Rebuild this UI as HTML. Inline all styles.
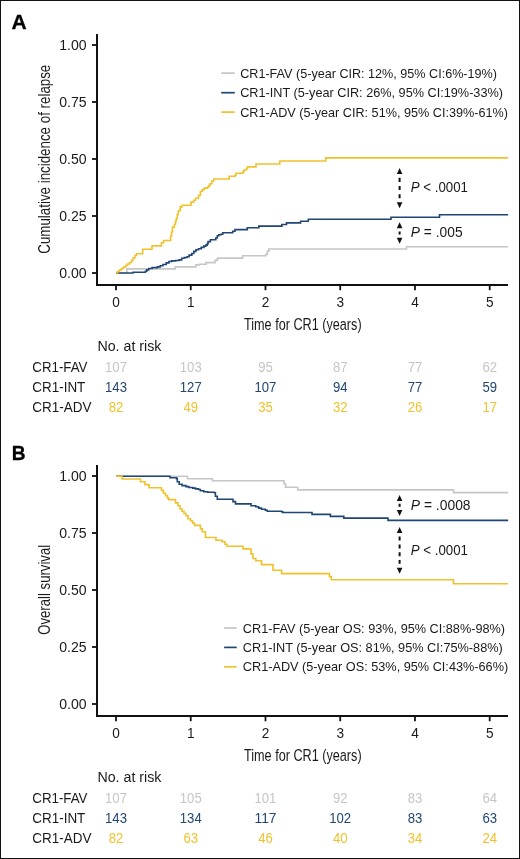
<!DOCTYPE html>
<html><head><meta charset="utf-8"><title>CR1 outcomes</title>
<style>
html,body{margin:0;padding:0;background:#fff;}
body{width:520px;height:859px;overflow:hidden;}
svg{display:block;will-change:transform;font-family:"Liberation Sans",sans-serif;}
</style></head>
<body>
<svg width="520" height="859" viewBox="0 0 520 859">
<rect x="0" y="0" width="520" height="859" fill="#fff"/>
<line x1="513.5" y1="1" x2="513.5" y2="858" stroke="#fafafa" stroke-width="1"/>
<g transform="translate(0,0)">
<text x="11.4" y="29.1" font-size="19.8" font-weight="bold" fill="#000" stroke="#000" stroke-width="0.3" transform="translate(11.4,0) scale(1.06,1) translate(-11.4,0)">A</text>
<path d="M97,34 V285 H508" stroke="#111" stroke-width="2" fill="none"/>
<path d="M92,45 H97" stroke="#111" stroke-width="1.8"/>
<text x="86.6" y="49.6" font-size="14.5" text-anchor="end" fill="#1a1a1a" textLength="27.4" lengthAdjust="spacingAndGlyphs">1.00</text>
<path d="M92,102 H97" stroke="#111" stroke-width="1.8"/>
<text x="86.6" y="106.6" font-size="14.5" text-anchor="end" fill="#1a1a1a" textLength="27.4" lengthAdjust="spacingAndGlyphs">0.75</text>
<path d="M92,159 H97" stroke="#111" stroke-width="1.8"/>
<text x="86.6" y="163.6" font-size="14.5" text-anchor="end" fill="#1a1a1a" textLength="27.4" lengthAdjust="spacingAndGlyphs">0.50</text>
<path d="M92,216 H97" stroke="#111" stroke-width="1.8"/>
<text x="86.6" y="220.6" font-size="14.5" text-anchor="end" fill="#1a1a1a" textLength="27.4" lengthAdjust="spacingAndGlyphs">0.25</text>
<path d="M92,273 H97" stroke="#111" stroke-width="1.8"/>
<text x="86.6" y="277.6" font-size="14.5" text-anchor="end" fill="#1a1a1a" textLength="27.4" lengthAdjust="spacingAndGlyphs">0.00</text>
<path d="M116,285 V290.2" stroke="#111" stroke-width="1.8"/>
<text x="116" y="306.9" font-size="14.5" text-anchor="middle" fill="#1a1a1a" textLength="7.6" lengthAdjust="spacingAndGlyphs">0</text>
<path d="M190.74,285 V290.2" stroke="#111" stroke-width="1.8"/>
<text x="190.74" y="306.9" font-size="14.5" text-anchor="middle" fill="#1a1a1a" textLength="7.6" lengthAdjust="spacingAndGlyphs">1</text>
<path d="M265.48,285 V290.2" stroke="#111" stroke-width="1.8"/>
<text x="265.48" y="306.9" font-size="14.5" text-anchor="middle" fill="#1a1a1a" textLength="7.6" lengthAdjust="spacingAndGlyphs">2</text>
<path d="M340.22,285 V290.2" stroke="#111" stroke-width="1.8"/>
<text x="340.22" y="306.9" font-size="14.5" text-anchor="middle" fill="#1a1a1a" textLength="7.6" lengthAdjust="spacingAndGlyphs">3</text>
<path d="M414.96,285 V290.2" stroke="#111" stroke-width="1.8"/>
<text x="414.96" y="306.9" font-size="14.5" text-anchor="middle" fill="#1a1a1a" textLength="7.6" lengthAdjust="spacingAndGlyphs">4</text>
<path d="M489.7,285 V290.2" stroke="#111" stroke-width="1.8"/>
<text x="489.7" y="306.9" font-size="14.5" text-anchor="middle" fill="#1a1a1a" textLength="7.6" lengthAdjust="spacingAndGlyphs">5</text>
<text x="244.0" y="329.8" font-size="16.3" fill="#1a1a1a" textLength="117.6" lengthAdjust="spacingAndGlyphs">Time for CR1 (years)</text>
<text transform="translate(49.6,159.2) rotate(-90)" font-size="16.8" text-anchor="middle" fill="#1a1a1a" textLength="189.0" lengthAdjust="spacingAndGlyphs">Cumulative incidence of relapse</text>
</g>
<g transform="translate(0,431)">
<text x="11.8" y="28.9" font-size="20.6" font-weight="bold" fill="#000" stroke="#000" stroke-width="0.3" transform="translate(11.8,0) scale(0.93,1) translate(-11.8,0)">B</text>
<path d="M97,34 V285 H508" stroke="#111" stroke-width="2" fill="none"/>
<path d="M92,45 H97" stroke="#111" stroke-width="1.8"/>
<text x="86.6" y="49.6" font-size="14.5" text-anchor="end" fill="#1a1a1a" textLength="27.4" lengthAdjust="spacingAndGlyphs">1.00</text>
<path d="M92,102 H97" stroke="#111" stroke-width="1.8"/>
<text x="86.6" y="106.6" font-size="14.5" text-anchor="end" fill="#1a1a1a" textLength="27.4" lengthAdjust="spacingAndGlyphs">0.75</text>
<path d="M92,159 H97" stroke="#111" stroke-width="1.8"/>
<text x="86.6" y="163.6" font-size="14.5" text-anchor="end" fill="#1a1a1a" textLength="27.4" lengthAdjust="spacingAndGlyphs">0.50</text>
<path d="M92,216 H97" stroke="#111" stroke-width="1.8"/>
<text x="86.6" y="220.6" font-size="14.5" text-anchor="end" fill="#1a1a1a" textLength="27.4" lengthAdjust="spacingAndGlyphs">0.25</text>
<path d="M92,273 H97" stroke="#111" stroke-width="1.8"/>
<text x="86.6" y="277.6" font-size="14.5" text-anchor="end" fill="#1a1a1a" textLength="27.4" lengthAdjust="spacingAndGlyphs">0.00</text>
<path d="M116,285 V290.2" stroke="#111" stroke-width="1.8"/>
<text x="116" y="306.9" font-size="14.5" text-anchor="middle" fill="#1a1a1a" textLength="7.6" lengthAdjust="spacingAndGlyphs">0</text>
<path d="M190.74,285 V290.2" stroke="#111" stroke-width="1.8"/>
<text x="190.74" y="306.9" font-size="14.5" text-anchor="middle" fill="#1a1a1a" textLength="7.6" lengthAdjust="spacingAndGlyphs">1</text>
<path d="M265.48,285 V290.2" stroke="#111" stroke-width="1.8"/>
<text x="265.48" y="306.9" font-size="14.5" text-anchor="middle" fill="#1a1a1a" textLength="7.6" lengthAdjust="spacingAndGlyphs">2</text>
<path d="M340.22,285 V290.2" stroke="#111" stroke-width="1.8"/>
<text x="340.22" y="306.9" font-size="14.5" text-anchor="middle" fill="#1a1a1a" textLength="7.6" lengthAdjust="spacingAndGlyphs">3</text>
<path d="M414.96,285 V290.2" stroke="#111" stroke-width="1.8"/>
<text x="414.96" y="306.9" font-size="14.5" text-anchor="middle" fill="#1a1a1a" textLength="7.6" lengthAdjust="spacingAndGlyphs">4</text>
<path d="M489.7,285 V290.2" stroke="#111" stroke-width="1.8"/>
<text x="489.7" y="306.9" font-size="14.5" text-anchor="middle" fill="#1a1a1a" textLength="7.6" lengthAdjust="spacingAndGlyphs">5</text>
<text x="244.0" y="329.8" font-size="16.3" fill="#1a1a1a" textLength="117.6" lengthAdjust="spacingAndGlyphs">Time for CR1 (years)</text>
<text transform="translate(49.6,158.8) rotate(-90)" font-size="16.8" text-anchor="middle" fill="#1a1a1a" textLength="90.0" lengthAdjust="spacingAndGlyphs">Overall survival</text>
</g>
<path d="M116,273 H126.9 V268.9 H175.3 V266.9 H195.9 V264.9 H199.2 V264.2 H206 V262.6 H215 V260.4 H217.3 V258.8 H218.1 V258.1 H242.7 V255.8 H265.8 V254.2 H267.3 V251.2 H268.8 V249 H406.5 V246.8 H508.2" stroke="#c6c6c6" stroke-width="1.6" fill="none" stroke-linejoin="miter"/>
<path d="M116,273 H133 V272.2 H145.4 V271.3 H146.7 V269.9 H148.7 V268.5 H152.1 V267.6 H157.5 V266.9 H160.2 V265.8 H162.9 V264.5 H166.2 V262.9 H168.9 V261.5 H171.6 V260.9 H175.7 V260.5 H179 V259.9 H181.7 V258.2 H184.4 V257.5 H187.1 V256.8 H189.1 V255.1 H191.8 V253.5 H193.8 V251.4 H195.9 V249.7 H198.5 V248.7 H201.2 V247.4 H203.9 V246.1 H205.9 V245.1 H207.3 V243.6 H208.1 V241.6 H210.4 V239.8 H215.8 V238 H217.3 V235.8 H218.8 V234.7 H221.2 V234.2 H222.7 V232.7 H232.7 V231.2 H235 V229.6 H247.3 V227.8 H258.8 V226.1 H281.9 V224.5 H286.5 V222.9 H300.6 V221.2 H308.3 V219.3 H391 V217.2 H439.5 V214.8 H508.2" stroke="#1f4674" stroke-width="1.6" fill="none" stroke-linejoin="miter"/>
<path d="M116,273 H117.5 V271.5 H119.5 V270 H121.5 V268.5 H123.5 V267 H125.5 V265.5 H127.5 V264 H129.5 V262.5 H131.5 V260.5 H133 V258 H135 V255.5 H136.5 V253.8 H142.7 V249.3 H152 V245.9 H161.5 V242.7 H163.6 V240.5 H170.6 V236 H171.5 V232 H172.5 V227.1 H174.4 V224.2 H175.5 V221 H176.3 V218.5 H177.3 V214.5 H178.3 V210.8 H180.2 V206.9 H182.1 V205.2 H191 V202.1 H193.7 V200.2 H195.6 V198.3 H198.5 V195.4 H200.4 V191.5 H202.3 V189.6 H204.2 V188.1 H207.5 V187 H209 V185.5 H210 V183.8 H211.9 V181 H213.8 V179 H229.2 V176.2 H235 V175.2 H236 V173.3 H242.7 V172.3 H243.7 V170 H246.5 V168.5 H247.5 V166.9 H256 V164 H279.8 V161 H325.8 V157.9 H508.2" stroke="#f1c12c" stroke-width="1.6" fill="none" stroke-linejoin="miter"/>
<g transform="translate(0,0.4)"><path d="M116,475.8 H187.5 V478.3 H212.5 V480.4 H284 V483.3 H285.6 V486.8 H297.7 V489.5 H453.5 V492.2 H508.2" stroke="#c6c6c6" stroke-width="1.6" fill="none" stroke-linejoin="miter"/>
<path d="M116,475.8 H170 V477.4 H176.5 V478.2 H177.3 V481.3 H179.2 V483.8 H182.1 V485.2 H186 V486.2 H188.8 V487.1 H192.7 V487.7 H195.6 V488.5 H198.5 V489.1 H200.4 V490.3 H203.8 V491.3 H207.7 V491.9 H214.4 V492.3 H215.4 V495.8 H217.3 V498.9 H233 V501.2 H235.5 V503.5 H251 V505.3 H255.8 V506.3 H258.7 V507.7 H261.5 V508.8 H265.4 V509.8 H267.3 V510.8 H281.7 V511.3 H282.7 V512.1 H312 V514 H330.4 V516 H343.8 V517.7 H388 V520.0 H508.2" stroke="#1f4674" stroke-width="1.6" fill="none" stroke-linejoin="miter"/>
<path d="M116,475.8 H122 V478.6 H140.5 V481.3 H145 V484.2 H149 V487.3 H161.5 V490 H163.5 V492.9 H165.5 V495.4 H167.5 V497.7 H168.7 V499.2 H175.5 V502.5 H178 V505.4 H180 V508.3 H182 V510.8 H184 V513.1 H186 V515.4 H188 V518.3 H190.5 V520.4 H192.5 V522.7 H194.5 V525 H200.4 V528.3 H202.3 V531.3 H205.5 V537.1 H216 V539.8 H222 V541.3 H225 V543.8 H226.9 V545.8 H243 V548.5 H251 V553.5 H252.9 V558.1 H255.8 V560.3 H261.5 V564.2 H273 V569.8 H281.7 V573.2 H329.4 V576.2 H331.3 V579.4 H453.5 V583.4 H508.2" stroke="#f1c12c" stroke-width="1.6" fill="none" stroke-linejoin="miter"/>
</g><path d="M221.2,73.1 H234.8" stroke="#c6c6c6" stroke-width="1.7"/>
<text x="240.2" y="77.8" font-size="12.4" fill="#1a1a1a" textLength="256.8" lengthAdjust="spacingAndGlyphs">CR1-FAV (5-year CIR: 12%, 95% CI:6%-19%)</text>
<path d="M221.2,92.7 H234.8" stroke="#1f4674" stroke-width="1.7"/>
<text x="240.2" y="97.4" font-size="12.4" fill="#1a1a1a" textLength="262.8" lengthAdjust="spacingAndGlyphs">CR1-INT (5-year CIR: 26%, 95% CI:19%-33%)</text>
<path d="M221.2,112.1 H234.8" stroke="#f1c12c" stroke-width="1.7"/>
<text x="240.2" y="116.8" font-size="12.4" fill="#1a1a1a" textLength="267.8" lengthAdjust="spacingAndGlyphs">CR1-ADV (5-year CIR: 51%, 95% CI:39%-61%)</text>
<path d="M224.1,628 H236.7" stroke="#c6c6c6" stroke-width="1.7"/>
<text x="242.8" y="632.5" font-size="12.4" fill="#1a1a1a" textLength="262.3" lengthAdjust="spacingAndGlyphs">CR1-FAV (5-year OS: 93%, 95% CI:88%-98%)</text>
<path d="M224.1,647.4 H236.7" stroke="#1f4674" stroke-width="1.7"/>
<text x="242.8" y="651.9" font-size="12.4" fill="#1a1a1a" textLength="260.0" lengthAdjust="spacingAndGlyphs">CR1-INT (5-year OS: 81%, 95% CI:75%-88%)</text>
<path d="M224.1,666.8 H236.7" stroke="#f1c12c" stroke-width="1.7"/>
<text x="242.8" y="671.3" font-size="12.4" fill="#1a1a1a" textLength="265.4" lengthAdjust="spacingAndGlyphs">CR1-ADV (5-year OS: 53%, 95% CI:43%-66%)</text>
<path d="M399.6,177.8 V198.3" stroke="#111" stroke-width="2" stroke-dasharray="4.1,4.1" fill="none"/>
<path d="M399.6,168.1 L396.8,174.1 L402.40000000000003,174.1 Z" fill="#111"/>
<path d="M399.6,208.2 L396.8,202.2 L402.40000000000003,202.2 Z" fill="#111"/>
<path d="M399.6,231.5 V234.5" stroke="#111" stroke-width="2" stroke-dasharray="4,10" fill="none"/>
<path d="M399.6,222.2 L396.8,228.2 L402.40000000000003,228.2 Z" fill="#111"/>
<path d="M399.6,243.8 L396.8,237.8 L402.40000000000003,237.8 Z" fill="#111"/>
<path d="M399.6,503.7 V506.8" stroke="#111" stroke-width="2" stroke-dasharray="4,10" fill="none"/>
<path d="M399.6,494.9 L396.8,500.9 L402.40000000000003,500.9 Z" fill="#111"/>
<path d="M399.6,516.0 L396.8,510.0 L402.40000000000003,510.0 Z" fill="#111"/>
<path d="M399.6,536.6 V563.8" stroke="#111" stroke-width="2" stroke-dasharray="4,3.8" fill="none"/>
<path d="M399.6,526.9 L396.8,532.9 L402.40000000000003,532.9 Z" fill="#111"/>
<path d="M399.6,573.7 L396.8,567.7 L402.40000000000003,567.7 Z" fill="#111"/>
<text x="410.8" y="192.4" font-size="14" fill="#1a1a1a" textLength="57.2" lengthAdjust="spacingAndGlyphs"><tspan font-style="italic">P</tspan> &lt; .0001</text>
<text x="410.8" y="236.8" font-size="14" fill="#1a1a1a" textLength="51.8" lengthAdjust="spacingAndGlyphs"><tspan font-style="italic">P</tspan> = .005</text>
<text x="410.8" y="509.7" font-size="14" fill="#1a1a1a" textLength="59.8" lengthAdjust="spacingAndGlyphs"><tspan font-style="italic">P</tspan> = .0008</text>
<text x="410.8" y="554.9" font-size="14" fill="#1a1a1a" textLength="57.2" lengthAdjust="spacingAndGlyphs"><tspan font-style="italic">P</tspan> &lt; .0001</text>
<g transform="translate(0,0)">
<text x="97.4" y="350.8" font-size="14" fill="#1a1a1a" textLength="64" lengthAdjust="spacingAndGlyphs">No. at risk</text>
<text x="32.3" y="372.1" font-size="14" fill="#1a1a1a" textLength="55.2" lengthAdjust="spacingAndGlyphs">CR1-FAV</text>
<text x="116" y="372.40000000000003" font-size="14" text-anchor="middle" fill="#c6c6c6" textLength="21.9" lengthAdjust="spacingAndGlyphs">107</text>
<text x="190.74" y="372.40000000000003" font-size="14" text-anchor="middle" fill="#c6c6c6" textLength="21.9" lengthAdjust="spacingAndGlyphs">103</text>
<text x="265.48" y="372.40000000000003" font-size="14" text-anchor="middle" fill="#c6c6c6" textLength="14.6" lengthAdjust="spacingAndGlyphs">95</text>
<text x="340.22" y="372.40000000000003" font-size="14" text-anchor="middle" fill="#c6c6c6" textLength="14.6" lengthAdjust="spacingAndGlyphs">87</text>
<text x="414.96" y="372.40000000000003" font-size="14" text-anchor="middle" fill="#c6c6c6" textLength="14.6" lengthAdjust="spacingAndGlyphs">77</text>
<text x="489.7" y="372.40000000000003" font-size="14" text-anchor="middle" fill="#c6c6c6" textLength="14.6" lengthAdjust="spacingAndGlyphs">62</text>
<text x="32.3" y="392.1" font-size="14" fill="#1a1a1a" textLength="53" lengthAdjust="spacingAndGlyphs">CR1-INT</text>
<text x="116" y="392.40000000000003" font-size="14" text-anchor="middle" fill="#1f4674" textLength="21.9" lengthAdjust="spacingAndGlyphs">143</text>
<text x="190.74" y="392.40000000000003" font-size="14" text-anchor="middle" fill="#1f4674" textLength="21.9" lengthAdjust="spacingAndGlyphs">127</text>
<text x="265.48" y="392.40000000000003" font-size="14" text-anchor="middle" fill="#1f4674" textLength="21.9" lengthAdjust="spacingAndGlyphs">107</text>
<text x="340.22" y="392.40000000000003" font-size="14" text-anchor="middle" fill="#1f4674" textLength="14.6" lengthAdjust="spacingAndGlyphs">94</text>
<text x="414.96" y="392.40000000000003" font-size="14" text-anchor="middle" fill="#1f4674" textLength="14.6" lengthAdjust="spacingAndGlyphs">77</text>
<text x="489.7" y="392.40000000000003" font-size="14" text-anchor="middle" fill="#1f4674" textLength="14.6" lengthAdjust="spacingAndGlyphs">59</text>
<text x="32.3" y="412.1" font-size="14" fill="#1a1a1a" textLength="59.2" lengthAdjust="spacingAndGlyphs">CR1-ADV</text>
<text x="116" y="412.40000000000003" font-size="14" text-anchor="middle" fill="#f1c12c" textLength="14.6" lengthAdjust="spacingAndGlyphs">82</text>
<text x="190.74" y="412.40000000000003" font-size="14" text-anchor="middle" fill="#f1c12c" textLength="14.6" lengthAdjust="spacingAndGlyphs">49</text>
<text x="265.48" y="412.40000000000003" font-size="14" text-anchor="middle" fill="#f1c12c" textLength="14.6" lengthAdjust="spacingAndGlyphs">35</text>
<text x="340.22" y="412.40000000000003" font-size="14" text-anchor="middle" fill="#f1c12c" textLength="14.6" lengthAdjust="spacingAndGlyphs">32</text>
<text x="414.96" y="412.40000000000003" font-size="14" text-anchor="middle" fill="#f1c12c" textLength="14.6" lengthAdjust="spacingAndGlyphs">26</text>
<text x="489.7" y="412.40000000000003" font-size="14" text-anchor="middle" fill="#f1c12c" textLength="14.6" lengthAdjust="spacingAndGlyphs">17</text>
</g>
<g transform="translate(0,431)">
<text x="97.4" y="350.8" font-size="14" fill="#1a1a1a" textLength="64" lengthAdjust="spacingAndGlyphs">No. at risk</text>
<text x="32.3" y="372.1" font-size="14" fill="#1a1a1a" textLength="55.2" lengthAdjust="spacingAndGlyphs">CR1-FAV</text>
<text x="116" y="372.40000000000003" font-size="14" text-anchor="middle" fill="#c6c6c6" textLength="21.9" lengthAdjust="spacingAndGlyphs">107</text>
<text x="190.74" y="372.40000000000003" font-size="14" text-anchor="middle" fill="#c6c6c6" textLength="21.9" lengthAdjust="spacingAndGlyphs">105</text>
<text x="265.48" y="372.40000000000003" font-size="14" text-anchor="middle" fill="#c6c6c6" textLength="21.9" lengthAdjust="spacingAndGlyphs">101</text>
<text x="340.22" y="372.40000000000003" font-size="14" text-anchor="middle" fill="#c6c6c6" textLength="14.6" lengthAdjust="spacingAndGlyphs">92</text>
<text x="414.96" y="372.40000000000003" font-size="14" text-anchor="middle" fill="#c6c6c6" textLength="14.6" lengthAdjust="spacingAndGlyphs">83</text>
<text x="489.7" y="372.40000000000003" font-size="14" text-anchor="middle" fill="#c6c6c6" textLength="14.6" lengthAdjust="spacingAndGlyphs">64</text>
<text x="32.3" y="392.1" font-size="14" fill="#1a1a1a" textLength="53" lengthAdjust="spacingAndGlyphs">CR1-INT</text>
<text x="116" y="392.40000000000003" font-size="14" text-anchor="middle" fill="#1f4674" textLength="21.9" lengthAdjust="spacingAndGlyphs">143</text>
<text x="190.74" y="392.40000000000003" font-size="14" text-anchor="middle" fill="#1f4674" textLength="21.9" lengthAdjust="spacingAndGlyphs">134</text>
<text x="265.48" y="392.40000000000003" font-size="14" text-anchor="middle" fill="#1f4674" textLength="21.9" lengthAdjust="spacingAndGlyphs">117</text>
<text x="340.22" y="392.40000000000003" font-size="14" text-anchor="middle" fill="#1f4674" textLength="21.9" lengthAdjust="spacingAndGlyphs">102</text>
<text x="414.96" y="392.40000000000003" font-size="14" text-anchor="middle" fill="#1f4674" textLength="14.6" lengthAdjust="spacingAndGlyphs">83</text>
<text x="489.7" y="392.40000000000003" font-size="14" text-anchor="middle" fill="#1f4674" textLength="14.6" lengthAdjust="spacingAndGlyphs">63</text>
<text x="32.3" y="412.1" font-size="14" fill="#1a1a1a" textLength="59.2" lengthAdjust="spacingAndGlyphs">CR1-ADV</text>
<text x="116" y="412.40000000000003" font-size="14" text-anchor="middle" fill="#f1c12c" textLength="14.6" lengthAdjust="spacingAndGlyphs">82</text>
<text x="190.74" y="412.40000000000003" font-size="14" text-anchor="middle" fill="#f1c12c" textLength="14.6" lengthAdjust="spacingAndGlyphs">63</text>
<text x="265.48" y="412.40000000000003" font-size="14" text-anchor="middle" fill="#f1c12c" textLength="14.6" lengthAdjust="spacingAndGlyphs">46</text>
<text x="340.22" y="412.40000000000003" font-size="14" text-anchor="middle" fill="#f1c12c" textLength="14.6" lengthAdjust="spacingAndGlyphs">40</text>
<text x="414.96" y="412.40000000000003" font-size="14" text-anchor="middle" fill="#f1c12c" textLength="14.6" lengthAdjust="spacingAndGlyphs">34</text>
<text x="489.7" y="412.40000000000003" font-size="14" text-anchor="middle" fill="#f1c12c" textLength="14.6" lengthAdjust="spacingAndGlyphs">24</text>
</g>

<rect x="0.5" y="0.5" width="519" height="858" fill="none" stroke="#111" stroke-width="1"/>
</svg>
</body></html>
